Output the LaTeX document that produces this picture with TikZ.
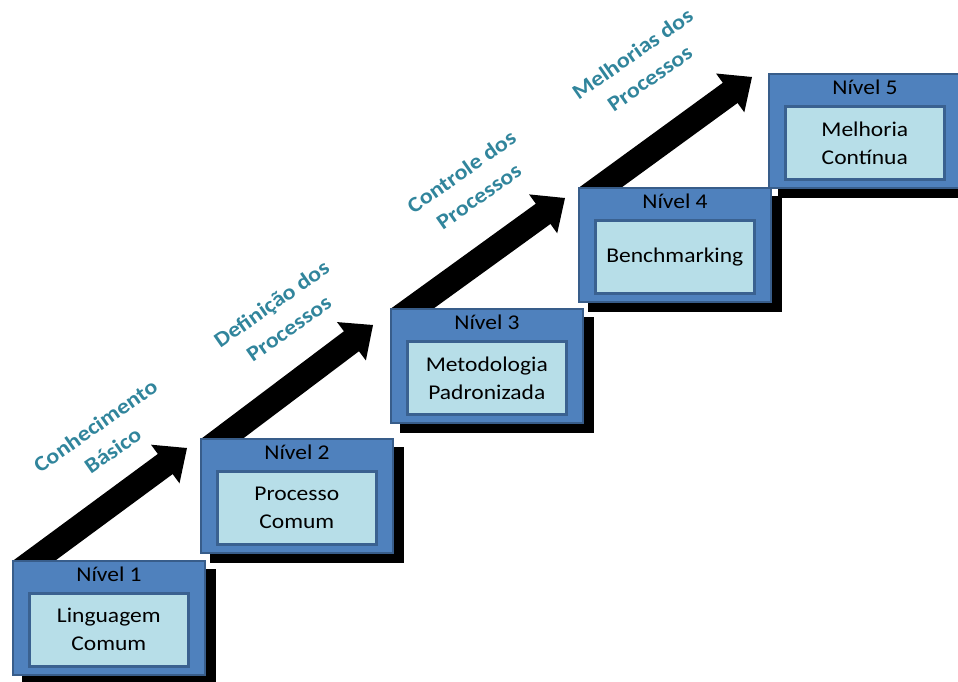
\documentclass[tikz,border=0pt]{standalone}
\usepackage{fontspec}
\setmainfont{Carlito}[FakeStretch=1.12]
\usetikzlibrary{calc}
\pgfdeclarelayer{background}
\pgfsetlayers{background,main}

\definecolor{boxblue}{HTML}{4F81BD}
\definecolor{boxedge}{HTML}{385D8A}
\definecolor{panel}{HTML}{B7DEE8}
\definecolor{paneledge}{HTML}{3A6190}
\definecolor{stagelabel}{HTML}{31859C}

\begin{document}
\begin{tikzpicture}[x=1pt,y=-1pt,
  levelbox/.style={draw=boxedge, fill=boxblue, line width=2pt,
    minimum width=192pt, minimum height=114pt, anchor=north west, inner sep=0pt},
  panelbox/.style={draw=paneledge, fill=panel, line width=2.6pt,
    minimum width=159pt, minimum height=73pt, anchor=north west, inner sep=0pt,
    align=center, font=\fontsize{21}{28}\selectfont, text=black},
  leveltitle/.style={anchor=base, font=\fontsize{21}{25}\selectfont, text=black},
  stagetext/.style={font=\bfseries\fontsize{21.5}{30}\selectfont,
    text=stagelabel, align=center, rotate=35},
  stairshaft/.style={line width=25pt, black},
  dropshadow/.style={fill=black}]

\useasboundingbox (0,0) rectangle (958,681);

% the five levels, each one step up and to the right
\node[levelbox] (b1) at (12,560) {};
\node[levelbox] (b2) at (200,438) {};
\node[levelbox] (b3) at (390,308) {};
\node[levelbox] (b4) at (578,187) {};
\node[levelbox] (b5) at (768,73) {};

\foreach \b/\n/\txt in {b1/1/{Linguagem\\Comum}, b2/2/{Processo\\Comum},
    b3/3/{Metodologia\\Padronizada}, b4/4/{Benchmarking}, b5/5/{Melhoria\\Contínua}} {
  \node[leveltitle] (t\n) at ($(\b.north)+(0,21)$) {Nível \n};
  \node[panelbox] (p\n) at ($(\b.north west)+(16,32)$) {\txt};
}

% shadows and the arrows climbing from one level to the next
\begin{pgfonlayer}{background}
  \foreach \b in {b1,b2,b3,b4,b5}
    \fill[dropshadow] ($(\b.north west)+(10,9)$) rectangle ($(\b.south east)+(10,9)$);
  \foreach \a/\b/\dx/\dy in {b1/b2/-13/10, b2/b3/-17/17, b3/b4/-13/11, b4/b5/-16/4} {
    \begin{scope}
      \clip (\a.north west) rectangle ++(420,-420);
      \coordinate (s) at ($(\a.north west)+(23,0)$);
      \coordinate (tip) at ($(\b.north west)+(\dx,\dy)$);
      \coordinate (h) at ($(tip)!27pt!(s)$);
      \draw[stairshaft] ($(s)!-25pt!(tip)$) -- ($(tip)!26pt!(s)$);
      \fill[black] ($(h)!24pt!90:(tip)$) -- (tip) -- ($(h)!24pt!-90:(tip)$) -- cycle;
    \end{scope}
  }
\end{pgfonlayer}

% stage names above the arrows
\node[stagetext] (s1) at (104,438) {Conhecimento\\Básico};
\node[stagetext] (s2) at (280,316) {Definição dos\\Processos};
\node[stagetext] (s3) at (470,184) {Controle dos\\Processos};
\node[stagetext] (s4) at (641,66) {Melhorias dos\\Processos};
\end{tikzpicture}
\end{document}
